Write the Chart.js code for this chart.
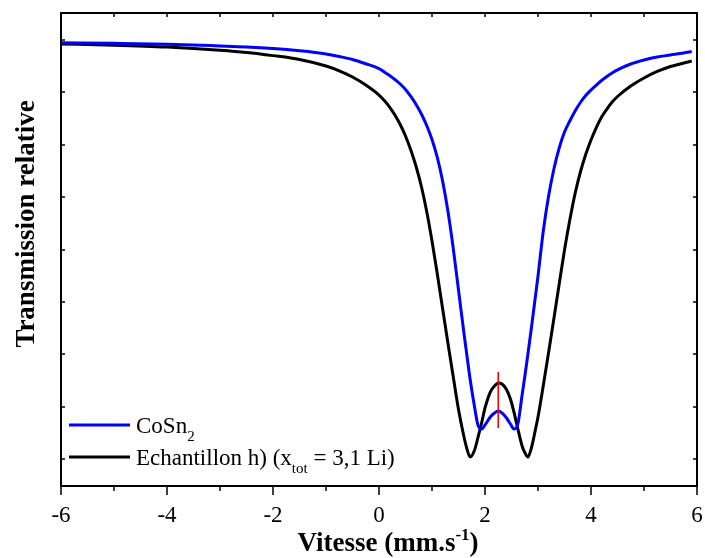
<!DOCTYPE html>
<html>
<head>
<meta charset="utf-8">
<script src="https://cdn.jsdelivr.net/npm/chart.js@4"></script>
<style>
  html, body { margin: 0; padding: 0; background: #fff; }
  canvas { display: block; }
</style>
</head>
<body>
<canvas id="myChart" width="705" height="558"></canvas>
<script>
// velocity (mm/s) shared by both spectra
const velocity = [-6, -5, -4, -3, -2.5, -2, -1.5, -1, -0.75, -0.5, -0.25,
  0, 0.1, 0.2, 0.3, 0.4, 0.5, 0.6, 0.7, 0.8, 0.9, 1.0, 1.1, 1.2, 1.3, 1.4, 1.5, 1.6, 1.65, 1.72, 1.8, 1.87, 1.94,
  2.0, 2.1, 2.18, 2.25, 2.32, 2.4, 2.48, 2.55, 2.62, 2.7, 2.75, 2.81, 2.88, 2.95,
  3.0, 3.1, 3.2, 3.3, 3.4, 3.5, 3.6, 3.7, 3.8, 3.9, 4.0, 4.1, 4.2, 4.3, 4.4, 4.5,
  4.75, 5.0, 5.25, 5.5, 5.75, 5.9]

// relative transmission (%)
const cosn2 = [99.948, 99.937, 99.920, 99.887, 99.868, 99.838, 99.794, 99.733, 99.685, 99.628, 99.547,
  99.455, 99.389, 99.323, 99.246, 99.160, 99.055, 98.922, 98.769, 98.588, 98.368, 98.101, 97.758, 97.309,
  96.737, 96.031, 95.229, 94.427, 94.046, 93.521, 93.015, 92.643, 92.576,
  92.653, 92.805, 92.882, 92.920, 92.882, 92.796, 92.672, 92.576, 92.672, 93.225, 93.569, 94.008, 94.542, 95.095,
  95.496, 96.355, 97.023, 97.538, 97.939, 98.244, 98.454, 98.645, 98.807, 98.941, 99.046, 99.141, 99.227,
  99.303, 99.372, 99.431,
  99.542, 99.618, 99.676, 99.714, 99.752, 99.781]

const echantillon = [99.924, 99.901, 99.865, 99.805, 99.763, 99.702, 99.628, 99.504, 99.412, 99.294, 99.141,
  98.950, 98.845, 98.721, 98.569, 98.387, 98.168, 97.901, 97.586, 97.204, 96.727, 96.164, 95.534, 94.876,
  94.218, 93.578, 92.948, 92.443, 92.233, 92.042, 92.166, 92.424, 92.710,
  92.977, 93.282, 93.397, 93.454, 93.435, 93.340, 93.149, 92.882, 92.576, 92.252, 92.128, 92.042, 92.233, 92.557,
  92.805, 93.406, 94.036, 94.685, 95.344, 95.992, 96.565, 97.071, 97.481, 97.815, 98.092, 98.330, 98.531,
  98.683, 98.817, 98.922,
  99.122, 99.275, 99.399, 99.494, 99.561, 99.599]

// red marker at the centre of the doublet
const markerX = [2.25, 2.25]
const markerY = [93.664, 92.595]

const xLabelTicks = [-6, -4, -2, 0, 2, 4, 6]
const xMinorTicks = [-5, -3, -1, 1, 3, 5]
const yTicks = [92, 93, 94, 95, 96, 97, 98, 99, 100]

const seriesNames = ['CoSn', 'Echantillon h) (x']

const toPoints = (xs, ys) => xs.map((x, i) => ({ x: x, y: ys[i] }))

const ctx = document.getElementById('myChart')
const FONT = 'Liberation Serif'
Chart.defaults.font.family = FONT
Chart.defaults.color = '#000'

// frame, tick marks, legend and axis titles
const decorations = {
  id: 'decorations',
  afterDraw(chart) {
    const c = chart.ctx
    const area = chart.chartArea
    const xs = chart.scales.x
    const ys = chart.scales.y
    c.save()
    c.strokeStyle = '#000'
    c.lineWidth = 2
    c.strokeRect(area.left, area.top, area.right - area.left, area.bottom - area.top)

    c.lineWidth = 1.5
    c.beginPath()
    xLabelTicks.forEach(v => {
      const px = Math.round(xs.getPixelForValue(v))
      c.moveTo(px, area.bottom); c.lineTo(px, area.bottom + 9)
      c.moveTo(px, area.top); c.lineTo(px, area.top + 4)
    })
    xMinorTicks.forEach(v => {
      const px = Math.round(xs.getPixelForValue(v))
      c.moveTo(px, area.bottom); c.lineTo(px, area.bottom + 5)
      c.moveTo(px, area.top); c.lineTo(px, area.top + 4)
    })
    yTicks.forEach(v => {
      const py = Math.round(ys.getPixelForValue(v))
      c.moveTo(area.left, py); c.lineTo(area.left + 4, py)
      c.moveTo(area.right, py); c.lineTo(area.right - 4, py)
    })
    c.stroke()

    // legend
    const ds = chart.data.datasets
    const rows = [
      { ds: ds[1], y: 425, parts: [[seriesNames[0], 23, 0], ['2', 15, 8]] },
      { ds: ds[2], y: 457, parts: [[seriesNames[1], 23, 0], ['tot', 15, 8], [' = 3,1 Li)', 23, 0]] }
    ]
    rows.forEach(r => {
      c.strokeStyle = r.ds.borderColor
      c.lineWidth = 3
      c.beginPath()
      c.moveTo(area.left + 8, r.y); c.lineTo(area.left + 69, r.y)
      c.stroke()
      let x = area.left + 75
      c.fillStyle = '#000'
      c.textBaseline = 'alphabetic'
      c.textAlign = 'left'
      r.parts.forEach(([t, size, dy]) => {
        c.font = size + 'px "' + FONT + '"'
        c.fillText(t, x, r.y + 8 + dy)
        x += c.measureText(t).width
      })
    })

    // x title with superscript
    const xParts = [['Vitesse (mm.s', 27, 0], ['-1', 17, -11], [')', 27, 0]]
    let total = 0
    xParts.forEach(([t, size]) => { c.font = 'bold ' + size + 'px "' + FONT + '"'; total += c.measureText(t).width })
    let tx = 388 - total / 2
    xParts.forEach(([t, size, dy]) => {
      c.font = 'bold ' + size + 'px "' + FONT + '"'
      c.fillText(t, tx, 551 + dy)
      tx += c.measureText(t).width
    })

    // y title
    c.translate(34, 224)
    c.rotate(-Math.PI / 2)
    c.textAlign = 'center'
    c.font = 'bold 27px "' + FONT + '"'
    c.fillText('Transmission relative', 0, 0)
    c.restore()
  }
}

new Chart(ctx, {
  type: 'line',
  data: {
    datasets: [
      {
        data: toPoints(markerX, markerY),
        borderColor: '#ff0000',
        borderWidth: 1,
        pointRadius: 0
      },
      {
        label: 'CoSn2',
        data: toPoints(velocity, cosn2),
        borderColor: '#0000ff',
        borderWidth: 3,
        pointRadius: 0,
        cubicInterpolationMode: 'monotone'
      },
      {
        label: 'Echantillon h) (x_tot = 3,1 Li)',
        data: toPoints(velocity, echantillon),
        borderColor: '#000000',
        borderWidth: 3,
        pointRadius: 0,
        cubicInterpolationMode: 'monotone'
      }
    ]
  },
  options: {
    responsive: false,
    animation: false,
    layout: { padding: { top: 13, right: 8, left: 0, bottom: 0 } },
    plugins: { legend: { display: false }, tooltip: { enabled: false } },
    scales: {
      x: {
        type: 'linear',
        min: -6,
        max: 6,
        afterBuildTicks: scale => { scale.ticks = xLabelTicks.map(v => ({ value: v })) },
        afterFit: scale => { scale.height = 72; scale.paddingLeft = 0; scale.paddingRight = 0 },
        grid: { display: false, drawTicks: true, tickLength: 8 },
        border: { display: false },
        ticks: { autoSkip: false, maxRotation: 0, padding: 8, color: '#000', font: { size: 23, family: FONT } }
      },
      y: {
        min: 100 - 446 / 52.4,
        max: 100 + 27 / 52.4,
        afterFit: scale => { scale.width = 61 },
        grid: { display: false },
        border: { display: false },
        ticks: { display: false }
      }
    }
  },
  plugins: [decorations]
})
</script>
</body>
</html>
